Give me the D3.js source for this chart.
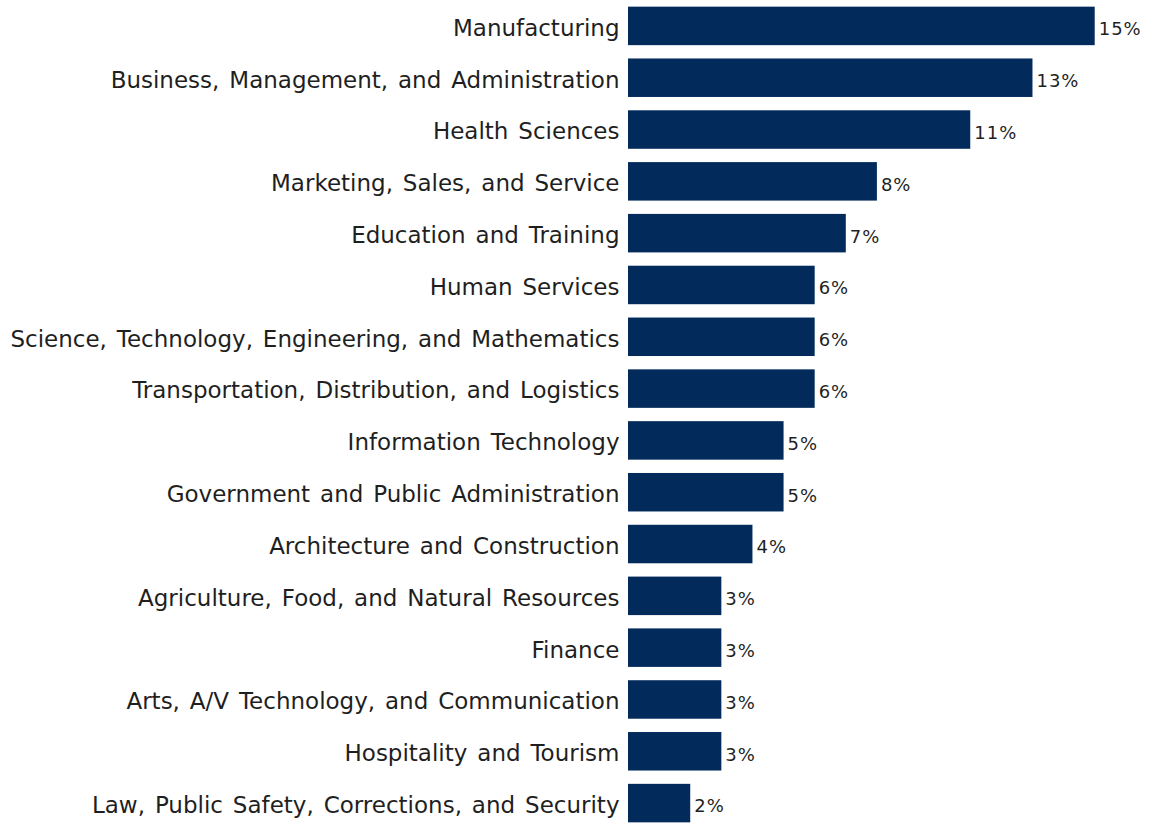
<!DOCTYPE html>
<html>
<head>
<meta charset="utf-8">
<script src="https://cdn.jsdelivr.net/npm/d3@7"></script>
<style>
  html, body { margin: 0; padding: 0; background: #ffffff; }
  svg { display: block; }
  text { font-family: "DejaVu Sans", Verdana, sans-serif; fill: #1f1f1f; }
</style>
</head>
<body>
<svg id="chart" width="1149" height="824"></svg>
<script>
// Share of participants by career cluster (percent)
const categories = [
  "Manufacturing",
  "Business, Management, and Administration",
  "Health Sciences",
  "Marketing, Sales, and Service",
  "Education and Training",
  "Human Services",
  "Science, Technology, Engineering, and Mathematics",
  "Transportation, Distribution, and Logistics",
  "Information Technology",
  "Government and Public Administration",
  "Architecture and Construction",
  "Agriculture, Food, and Natural Resources",
  "Finance",
  "Arts, A/V Technology, and Communication",
  "Hospitality and Tourism",
  "Law, Public Safety, Corrections, and Security"
];
const values = [15, 13, 11, 8, 7, 6, 6, 6, 5, 5, 4, 3, 3, 3, 3, 2];
const valueLabels = values.map(v => v + "%");

const svg = d3.select("#chart");
const left = 628;

const x = d3.scaleLinear().domain([0, 15]).range([left, 1094.7]);
const y = d3.scaleBand()
  .domain(categories)
  .range([0, 829])
  .paddingInner(0.257)
  .paddingOuter(0.1285);

const rows = svg.append("g")
  .selectAll("g")
  .data(categories.map((c, i) => ({ c, v: values[i], label: valueLabels[i] })))
  .join("g");

rows.append("rect")
  .attr("x", x(0))
  .attr("y", d => y(d.c))
  .attr("width", d => x(d.v) - x(0))
  .attr("height", y.bandwidth())
  .attr("fill", "#022b5c");

// category names, right-aligned against the bars
const yAxis = d3.axisLeft(y).tickSize(0).tickPadding(8.5);
const axisG = svg.append("g")
  .attr("transform", `translate(${left},0)`)
  .call(yAxis);
axisG.select(".domain").remove();
axisG.selectAll("text")
  .attr("dy", "0.43em")
  .style("font-family", '"DejaVu Sans", Verdana, sans-serif')
  .style("font-size", "23px")
  .style("word-spacing", "2.6px")
  .attr("fill", "#1f1f1f");

rows.append("text")
  .attr("x", d => x(d.v) + 4)
  .attr("y", d => y(d.c) + y.bandwidth() / 2)
  .attr("dy", "0.52em")
  .style("font-size", "18px")
  .style("letter-spacing", "1px")
  .text(d => d.label);
</script>
</body>
</html>
